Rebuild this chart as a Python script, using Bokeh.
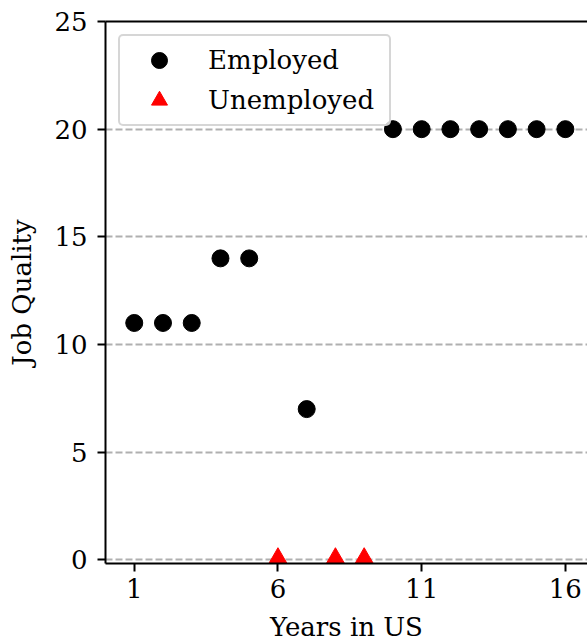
from bokeh.plotting import figure
from bokeh.models import ColumnDataSource, FixedTicker, LinearAxis, Legend, LegendItem, Range1d
from bokeh.embed import file_html
from bokeh.resources import INLINE

# data
employed_years = [1, 2, 3, 4, 5, 7, 10, 11, 12, 13, 14, 15, 16]
employed_quality = [11, 11, 11, 14, 14, 7, 20, 20, 20, 20, 20, 20, 20]
unemployed_years = [6, 8, 9]
unemployed_quality = [0, 0, 0]
x_ticks = [1, 6, 11, 16]
y_ticks = [0, 5, 10, 15, 20, 25]

FONT = "DejaVu Serif"
FS = "26px"

p = figure(width=587, height=644, output_backend="svg", toolbar_location=None,
           x_range=Range1d(0, 16.77), y_range=Range1d(-0.17, 25),
           min_border_left=105, min_border_right=0, min_border_top=21, min_border_bottom=80)
p.outline_line_color = None
p.background_fill_color = "white"
p.border_fill_color = "white"

emp = ColumnDataSource(dict(x=employed_years, y=employed_quality))
unemp = ColumnDataSource(dict(x=unemployed_years, y=unemployed_quality))

r1 = p.scatter("x", "y", source=emp, marker="circle", size=17, fill_color="black", line_color="black")
r2 = p.scatter("x", "y", source=unemp, marker="triangle", size=21, fill_color="#ff0000", line_color="#ff0000")

p.xgrid.visible = False
p.ygrid.grid_line_color = "#b0b0b0"
p.ygrid.grid_line_width = 2
p.ygrid.grid_line_dash = "7 3"

for ax in (p.xaxis[0], p.yaxis[0]):
    ax.axis_line_width = 2
    ax.axis_line_color = "black"
    ax.major_tick_line_width = 2
    ax.major_tick_line_color = "black"
    ax.major_tick_out = 8
    ax.major_tick_in = 0
    ax.minor_tick_line_color = None
    ax.major_label_text_font = FONT
    ax.major_label_text_font_size = FS
    ax.major_label_text_color = "black"
    ax.axis_label_text_font = FONT
    ax.axis_label_text_font_size = FS
    ax.axis_label_text_font_style = "normal"
    ax.axis_label_text_color = "black"

p.xaxis[0].ticker = FixedTicker(ticks=x_ticks)
p.yaxis[0].ticker = FixedTicker(ticks=y_ticks)
p.xaxis[0].axis_label = "Years in US"
p.yaxis[0].axis_label = "Job Quality"
p.xaxis[0].major_label_standoff = 7
p.yaxis[0].major_label_standoff = 10
p.xaxis[0].axis_label_standoff = 11
p.yaxis[0].axis_label_standoff = 14

top = LinearAxis(ticker=FixedTicker(ticks=[]), axis_line_width=2, axis_line_color="black",
                 major_tick_line_color=None, minor_tick_line_color=None,
                 major_label_text_font_size="0px")
p.add_layout(top, "above")

legend = Legend(items=[LegendItem(label="Employed", renderers=[r1]),
                       LegendItem(label="Unemployed", renderers=[r2])],
                location="top_left", margin=13, padding=4, spacing=0,
                glyph_width=70, glyph_height=40, label_height=40, label_width=177,
                label_standoff=14,
                label_text_font=FONT, label_text_font_size=FS, label_text_color="black",
                border_line_color="#cccccc", border_line_width=2, border_line_alpha=0.8,
                border_radius=5, background_fill_color="white", background_fill_alpha=0.8)
p.add_layout(legend, "center")

open("out.html", "w").write(file_html(p, INLINE))
